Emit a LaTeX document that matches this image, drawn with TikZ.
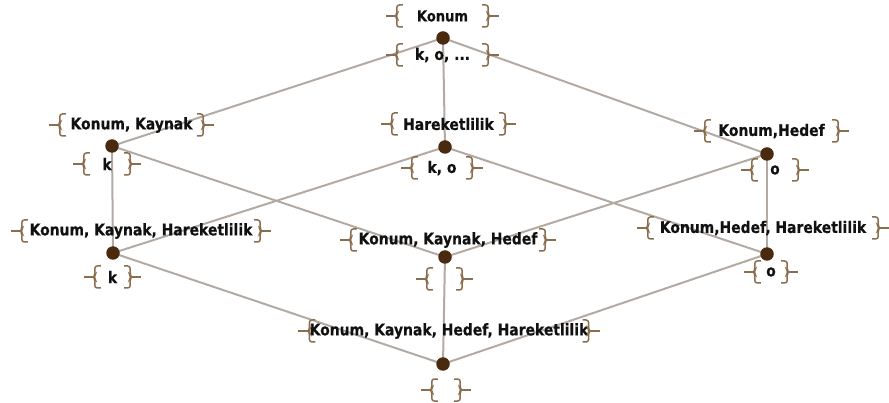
\documentclass[tikz,border=0pt]{standalone}
\usepackage{fontspec}
\setmainfont{DejaVu Sans}[FakeStretch=0.87, BoldFeatures={FakeBold=0.4}]
\definecolor{edgegray}{HTML}{B3ABA3}
\definecolor{bracebrown}{HTML}{8B6E4E}
\definecolor{dotbrown}{HTML}{4A2A0E}
\definecolor{labelink}{HTML}{111111}
\tikzset{
  edge/.style={draw=edgegray, line width=2pt},
  dot/.style={circle, inner sep=0pt, minimum size=13.5pt},
  lab/.style={inner sep=0pt, minimum height=22pt, text=labelink,
    font=\fontsize{16}{18}\selectfont\bfseries},
  smalllab/.style={lab, font=\fontsize{15}{17}\selectfont\bfseries},
  brace/.style={draw=bracebrown, line width=1.5pt, rounded corners=2.5pt}
}
% curly brackets on both sides of a label node, with a short tick outwards
\newcommand\bracepair[1]{%
  \draw[brace] ([shift={(6pt,11pt)}]#1.west) -- ([shift={(0pt,11pt)}]#1.west)
    -- ([shift={(0pt,1.5pt)}]#1.west) -- ([shift={(-1.2pt,0pt)}]#1.west)
    -- ([shift={(0pt,-1.5pt)}]#1.west) -- ([shift={(0pt,-11pt)}]#1.west)
    -- ([shift={(6pt,-11pt)}]#1.west);
  \draw[brace, rounded corners=0pt] ([shift={(-1pt,0pt)}]#1.west) -- ([shift={(-11pt,0pt)}]#1.west);
  \draw[brace] ([shift={(-6pt,11pt)}]#1.east) -- ([shift={(0pt,11pt)}]#1.east)
    -- ([shift={(0pt,1.5pt)}]#1.east) -- ([shift={(1.2pt,0pt)}]#1.east)
    -- ([shift={(0pt,-1.5pt)}]#1.east) -- ([shift={(0pt,-11pt)}]#1.east)
    -- ([shift={(-6pt,-11pt)}]#1.east);
  \draw[brace, rounded corners=0pt] ([shift={(1pt,0pt)}]#1.east) -- ([shift={(11pt,0pt)}]#1.east);
}
\begin{document}
\begin{tikzpicture}[x=1pt, y=-1pt]
\useasboundingbox[fill=white] (0,0) rectangle (889,403);

% lattice vertices
\node[dot] (t)  at (443,38)  {};
\node[dot] (l)  at (112,146) {};
\node[dot] (m)  at (445,147) {};
\node[dot] (r)  at (767,154) {};
\node[dot] (ll) at (113,253) {};
\node[dot] (lm) at (445,257) {};
\node[dot] (lr) at (767,254) {};
\node[dot] (b)  at (443,364) {};

% lattice edges
\foreach \u/\v in {t/l, t/m, t/r, l/ll, l/lm, m/ll, m/lr, r/lm, r/lr, ll/b, lm/b, lr/b}
  {\draw[edge] (\u.center) -- (\v.center);}

% labels: attributes above, objects below each vertex
\node[smalllab, minimum width=91pt]  (tA)  at (442.5,16)  {Konum};
\node[lab, minimum width=91pt]       (tB)  at (442.5,55)  {k, o, ...};
\node[lab, minimum width=143pt]      (lA)  at (131.5,125) {Konum, Kaynak};
\node[lab, minimum width=46pt]       (lB)  at (107,164)   {k};
\node[lab, minimum width=113pt]      (mA)  at (448.5,124) {Hareketlilik};
\node[lab, minimum width=60pt]       (mB)  at (442,168)   {k, o};
\node[lab, minimum width=133pt]      (rA)  at (771.5,131) {Konum,Hedef};
\node[lab, minimum width=46pt]       (rB)  at (775,170)   {o};
\node[lab, minimum width=238pt]      (llA) at (141,231)   {Konum, Kaynak, Hareketlilik};
\node[lab, minimum width=35pt]       (llB) at (112.5,277) {k};
\node[lab, minimum width=194pt]      (lmA) at (448,240)   {Konum, Kaynak, Hedef};
\node[lab, minimum width=35pt]       (lmB) at (444.5,279) {};
\node[lab, minimum width=230pt]      (lrA) at (763,228)   {Konum,Hedef, Hareketlilik};
\node[lab, minimum width=32pt]       (lrB) at (771,272)   {o};
\node[lab, minimum width=278pt]      (bA)  at (449,331)   {Konum, Kaynak, Hedef, Hareketlilik};
\node[lab, minimum width=28pt]       (bB)  at (446,390)   {};

\foreach \n in {tA,tB,lA,lB,mA,mB,rA,rB,llA,llB,lmA,lmB,lrA,lrB,bA,bB}
  {\bracepair{\n}}

% vertices on top of the edges
\foreach \n in {t,l,m,r,ll,lm,lr,b}
  {\fill[dotbrown] (\n.center) circle (6.75pt);}
\end{tikzpicture}
\end{document}
